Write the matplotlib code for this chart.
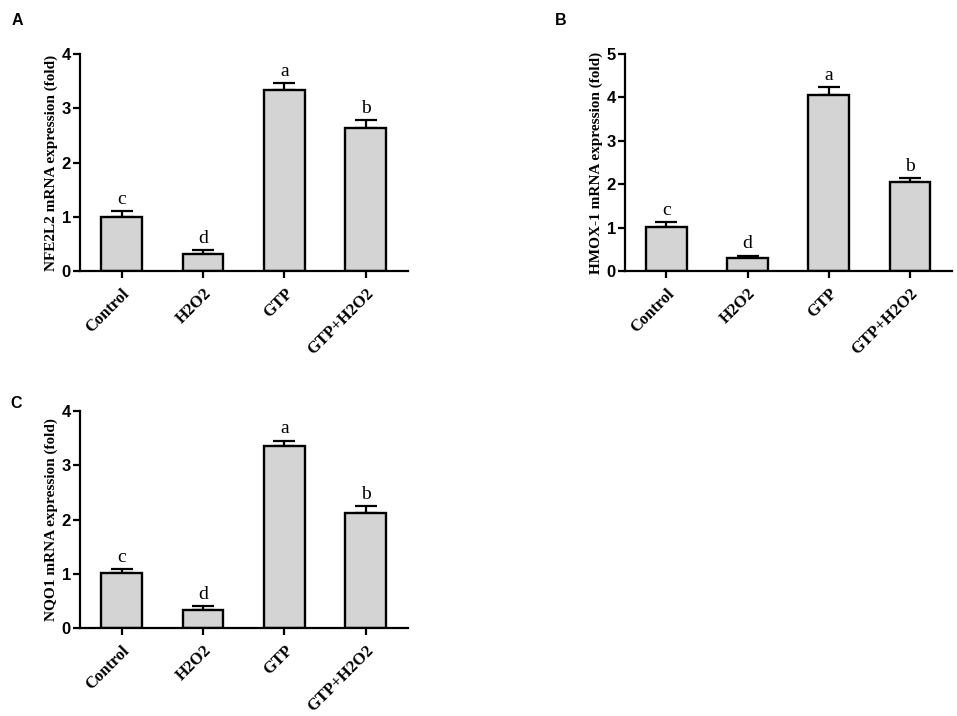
import matplotlib
matplotlib.use("Agg")
import matplotlib.pyplot as plt
import matplotlib.transforms as mtransforms
import numpy as np

groups = ["Control", "H2O2", "GTP", "GTP+H2O2"]
letters = ["c", "d", "a", "b"]

nfe2l2_mean = [1.00, 0.32, 3.33, 2.64]
nfe2l2_err = [0.10, 0.06, 0.13, 0.14]

hmox1_mean = [1.01, 0.31, 4.05, 2.05]
hmox1_err = [0.12, 0.04, 0.18, 0.09]

nqo1_mean = [1.02, 0.34, 3.36, 2.12]
nqo1_err = [0.07, 0.07, 0.09, 0.13]

serif = "Liberation Serif"
sans = "Liberation Sans"


def draw_panel(fig, ax, means, errs, ylabel, ymax):
    x = np.arange(len(groups))
    ax.bar(x, means, width=0.5, color="#d4d4d4", edgecolor="black",
           linewidth=1.7, zorder=2)
    ax.errorbar(x, means, yerr=[np.zeros(len(errs)), errs], fmt="none",
                ecolor="black", elinewidth=1.6, capsize=7.8, capthick=1.6,
                zorder=1)
    for xi, m, e, lab in zip(x, means, errs, letters):
        ax.annotate(lab, (xi, m + e), xytext=(0, 2.5), textcoords="offset points",
                    ha="center", va="bottom", fontsize=14, family=serif)

    ax.set_xlim(-0.51, 3.52)
    ax.set_ylim(0, ymax)
    ax.set_yticks(range(ymax + 1))
    ax.set_xticks(x)
    ax.spines["top"].set_visible(False)
    ax.spines["right"].set_visible(False)
    ax.spines["left"].set_linewidth(1.6)
    ax.spines["bottom"].set_linewidth(1.6)
    ax.tick_params(axis="both", direction="out", length=5, width=1.6)
    ax.tick_params(axis="y", pad=1.5)
    ax.tick_params(axis="x", pad=8)

    ax.set_xticklabels(groups, rotation=45, ha="right", va="center",
                       rotation_mode="anchor", fontsize=12, family=serif,
                       fontweight="bold")
    # nudge the rotated labels a bit right and down, like the original
    shift = mtransforms.ScaledTranslation(6 / 100, -2 / 100, fig.dpi_scale_trans)
    for t in ax.get_xticklabels():
        t.set_transform(t.get_transform() + shift)
    for t in ax.get_yticklabels():
        t.set_family(sans)
        t.set_fontweight("bold")
        t.set_fontsize(12)
    ax.set_ylabel(ylabel, family=serif, fontweight="bold", fontsize=11,
                  labelpad=3)


fig = plt.figure(figsize=(9.57, 7.16), dpi=100)

ax_a = fig.add_axes([0.0836, 0.6215, 0.3427, 0.3030])
draw_panel(fig, ax_a, nfe2l2_mean, nfe2l2_err, "NFE2L2 mRNA expression (fold)", 4)

ax_b = fig.add_axes([0.6531, 0.6215, 0.3417, 0.3030])
draw_panel(fig, ax_b, hmox1_mean, hmox1_err, "HMOX-1 mRNA expression (fold)", 5)

ax_c = fig.add_axes([0.0836, 0.1225, 0.3427, 0.3035])
draw_panel(fig, ax_c, nqo1_mean, nqo1_err, "NQO1 mRNA expression (fold)", 4)

fig.text(0.0125, 0.972, "A", family=sans, fontweight="bold", fontsize=11.5, va="center")
fig.text(0.5795, 0.972, "B", family=sans, fontweight="bold", fontsize=11.5, va="center")
fig.text(0.0105, 0.436, "C", family=sans, fontweight="bold", fontsize=11.5, va="center")

fig.savefig("out.png", dpi=100, facecolor="white")
